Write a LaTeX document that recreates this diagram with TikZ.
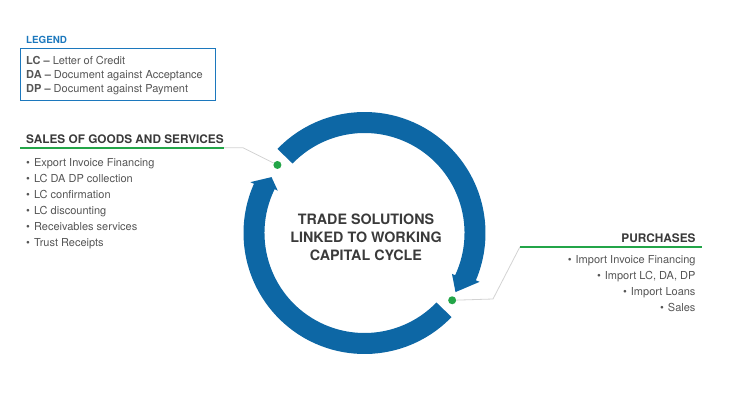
\documentclass[tikz,border=0pt]{standalone}
\usepackage{fontspec}
\setmainfont{TeX Gyre Heros}
\definecolor{ringblue}{HTML}{0D67A5}
\definecolor{dotgreen}{HTML}{23A548}
\definecolor{legendblue}{HTML}{1C78BD}
\definecolor{headgray}{HTML}{3A3A3A}
\definecolor{textgray}{HTML}{555555}
\definecolor{linkgray}{HTML}{D3D3D3}
\tikzstyle{ring}=[fill=ringblue]
\tikzstyle{gdot}=[circle, fill=dotgreen, inner sep=0pt, minimum size=8pt]
\tikzstyle{link}=[draw=linkgray, line width=0.8pt]
\tikzstyle{uline}=[draw=dotgreen, line width=2pt]
\tikzstyle{heading}=[inner sep=0pt, text=headgray, font=\fontsize{11.8}{14}\selectfont\bfseries]
\tikzstyle{item}=[inner sep=0pt, text=textgray, font=\fontsize{11}{13}\selectfont]
\tikzstyle{legendbox}=[draw=legendblue, line width=0.8pt, minimum width=195pt, minimum height=51.7pt]
\tikzstyle{hub}=[inner sep=0pt, align=center, text=headgray, font=\fontsize{14.3}{18}\selectfont\bfseries]
\newcommand{\blt}{\textbullet\hspace{4pt}}

\begin{document}
\begin{tikzpicture}[x=1pt, y=1pt]
    \useasboundingbox (0,0) rectangle (732,400);
    \coordinate (C) at (364.5,167);
    % cycle arrows
    \begin{scope}[shift={(C)}]
        \foreach \s/\b/\tip in {136/-23/-33, 316/156/149}
            \fill[ring] (\s:121) arc[start angle=\s, end angle=\b, radius=121]
                -- (\b:125) -- (\tip:108.5) -- (\b-2:96.5) -- (\b-2:100)
                arc[start angle=\b-2, end angle=\s, radius=100] -- cycle;
        \node[gdot] (salesdot) at (142:110.5) {};
        \node[gdot] (purdot) at (-37.5:110.5) {};
    \end{scope}
    \node[hub] (hub) at (366,163) {TRADE SOLUTIONS\\LINKED TO WORKING\\CAPITAL CYCLE};

    % legend
    \node[inner sep=0pt, anchor=base west, text=legendblue, font=\fontsize{9.8}{12}\selectfont\bfseries] (legendtitle) at (26,356.7) {LEGEND};
    \node[legendbox] (legend) at (117.5,325.85) {};
    \node[item, anchor=base west] (lc) at (26,335.7) {\textbf{LC –} Letter of Credit};
    \node[item, anchor=base west] (da) at (26,321.8) {\textbf{DA –} Document against Acceptance};
    \node[item, anchor=base west] (dp) at (26,308) {\textbf{DP –} Document against Payment};

    % sales side
    \node[heading, anchor=base west] (sales) at (26,256.7) {SALES OF GOODS AND SERVICES};
    \coordinate (salesl) at (20,252.3);
    \coordinate (salesr) at (224,252.3);
    \coordinate (salesbend) at (243,252.3);
    \draw[link] (salesr) -- (salesbend) -- (salesdot);
    \draw[uline] (salesl) -- (salesr);
    \foreach \t [count=\i] in {Export Invoice Financing, LC DA DP collection, LC confirmation,
            LC discounting, Receivables services, Trust Receipts}
        \node[item, anchor=base west] (sale\i) at (26,249.8-16*\i) {\blt\t};

    % purchases side
    \node[heading, anchor=base east] (purchases) at (695.7,157.3) {PURCHASES};
    \coordinate (purl) at (520,153.3);
    \coordinate (purr) at (701.7,153.3);
    \coordinate (purbend) at (493,101);
    \draw[link] (purdot) -- (purbend) -- (purl);
    \draw[uline] (purl) -- (purr);
    \foreach \t [count=\i] in {Import Invoice Financing, {Import LC, DA, DP}, Import Loans, Sales}
        \node[item, anchor=base east] (pur\i) at (695.7,152.7-16*\i) {\blt\t};
\end{tikzpicture}
\end{document}
